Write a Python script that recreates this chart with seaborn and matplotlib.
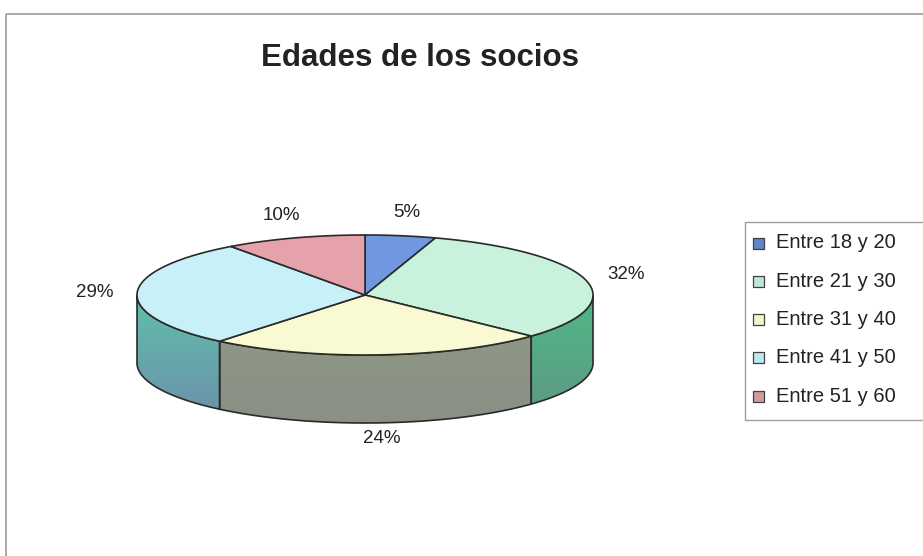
import numpy as np
import matplotlib
matplotlib.use("Agg")
import matplotlib.pyplot as plt
import seaborn as sns
from matplotlib.patches import Polygon, Rectangle

sns.set_theme(style="white")
plt.rcParams["font.family"] = ["Liberation Sans", "DejaVu Sans"]

# Data
categories = ["Entre 18 y 20", "Entre 21 y 30", "Entre 31 y 40", "Entre 41 y 50", "Entre 51 y 60"]
percentages = [5, 32, 24, 29, 10]
title = "Edades de los socios"

# Styling
top_colors = ["#7098e0", "#c8f2dc", "#fafad2", "#c8f0f8", "#e6a2aa"]
side_top = ["#5a7cc0", "#4fb886", "#8e9684", "#5fc0aa", "#c08088"]
side_bot = ["#5a7cc0", "#5c9c84", "#8a9086", "#6c94aa", "#c08088"]
legend_colors = ["#5f86c8", "#bde8d4", "#f4f4c8", "#bdeaf0", "#d09a98"]

W, H = 923, 556
fig = plt.figure(figsize=(W / 100, H / 100), dpi=100)
ax = fig.add_axes([0, 0, 1, 1])
ax.set_xlim(0, W)
ax.set_ylim(H, 0)
ax.axis("off")

# Chart frame
ax.add_patch(Rectangle((6, 14), W - 4, H, fill=False, ec="#9a9a9a", lw=1.2))

# Pie geometry (pixels)
cx, cy, rx, ry, depth = 365, 295, 228, 60, 68


def pt(theta_deg, dy=0.0):
    t = np.radians(theta_deg)
    return cx + rx * np.cos(t), cy - ry * np.sin(t) + dy


def arc(a0, a1, dy=0.0, n=120):
    ts = np.linspace(a0, a1, n)
    xs, ys = pt(ts, dy)
    return np.column_stack([xs, ys])


def vgrad(c0, c1):
    a = np.array(matplotlib.colors.to_rgb(c0))
    b = np.array(matplotlib.colors.to_rgb(c1))
    t = np.linspace(0, 1, 64)[:, None, None]
    return a * (1 - t) + b * t


total = float(sum(percentages))
bounds = [90.0]
for v in percentages:
    bounds.append(bounds[-1] - 360.0 * v / total)

# Side walls (front half only: angles between -180 and 0), shaded top to bottom
for i in range(len(percentages)):
    a0, a1 = bounds[i], bounds[i + 1]  # a0 > a1 (clockwise)
    for shift in (0, -360, 360):
        s0, s1 = a0 + shift, a1 + shift
        lo, hi = max(s1, -180.0), min(s0, 0.0)
        if hi > lo:
            top = arc(hi, lo)
            bot = arc(lo, hi, dy=depth)
            poly = Polygon(np.vstack([top, bot]), closed=True,
                           fc="none", ec="#2a2a2a", lw=1.2, zorder=2.5)
            ax.add_patch(poly)
            x0, x1 = top[:, 0].min(), top[:, 0].max()
            y0 = top[:, 1].min()
            y1 = bot[:, 1].max()
            im = ax.imshow(vgrad(side_top[i], side_bot[i]),
                           extent=(x0, x1, y1, y0), aspect="auto",
                           zorder=2, interpolation="bilinear")
            im.set_clip_path(poly)
ax.set_xlim(0, W)
ax.set_ylim(H, 0)

# Top face wedges
for i in range(len(percentages)):
    a0, a1 = bounds[i], bounds[i + 1]
    pts = np.vstack([[cx, cy], arc(a0, a1)])
    ax.add_patch(Polygon(pts, closed=True, fc=top_colors[i], ec="#2a2a2a",
                         lw=1.2, zorder=3))

# Percentage labels
for i, v in enumerate(percentages):
    mid = np.radians((bounds[i] + bounds[i + 1]) / 2)
    s = np.sin(mid)
    lx = cx + (rx + 42) * np.cos(mid)
    ly = cy - (ry + 24) * s + (depth - 8 if s < 0 else 0)
    ax.text(lx, ly, f"{v}%", ha="center", va="center", fontsize=13.5,
            color="#222222", zorder=4)

# Title
ax.text(420, 58, title, ha="center", va="center", fontsize=22.5,
        fontweight="bold", color="#222222")

# Legend
ax.add_patch(Rectangle((745, 222), 190, 198, fill=False, ec="#a0a0a0", lw=1.0))
for i, lab in enumerate(categories):
    y = 243 + i * 38.3
    ax.add_patch(Rectangle((753, y - 5.5), 11, 11, fc=legend_colors[i],
                           ec="#404040", lw=0.9))
    ax.text(776, y, lab, ha="left", va="center", fontsize=14.5, color="#222222")

fig.savefig("out.png", dpi=100)
